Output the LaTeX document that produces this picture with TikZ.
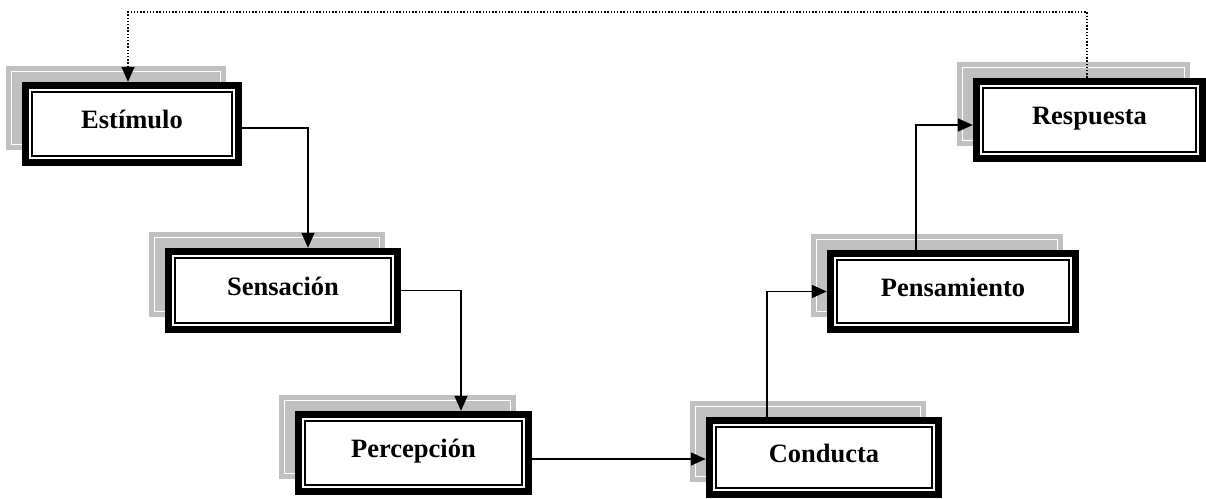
\documentclass[tikz,border=0pt]{standalone}
\usepackage{fontspec}
\setmainfont{Liberation Serif}
\usetikzlibrary{arrows.meta}
\definecolor{shadowgray}{HTML}{C0C0C0}
\tikzset{
  conn/.style={line width=1.5pt, -{Triangle[length=15pt,width=13pt]}},
  feedback/.style={line width=1.5pt, dash pattern=on 1.5pt off 1.7pt, -{Triangle[length=15pt,width=13pt]}},
  shadowfill/.style={fill=shadowgray},
  shadowrule/.style={draw=white, line width=0.9pt},
  outerframe/.style={fill=black},
  innerrule/.style={draw=black, line width=2pt},
  label/.style={inner sep=0pt, text height=15pt, text depth=6pt,
    font=\fontsize{26.5}{30}\selectfont\bfseries}
}
% framed process box with a grey offset shadow:
% #1 node name, (#2,#3) top-left, (#4,#5) bottom-right, #6 text
\newcommand\procbox[6]{%
  \fill[shadowfill] (#2-16,#3-16) rectangle (#4-16,#5-16);
  \path[shadowrule] (#2-16+5.5,#3-16+5.5) rectangle (#4-16-5.5,#5-16-5.5);
  \fill[outerframe] (#2,#3) rectangle (#4,#5);
  \fill[white] (#2+6.7,#3+6.7) rectangle (#4-6.7,#5-6.7);
  \path[innerrule] (#2+10,#3+10) rectangle (#4-10,#5-10);
  \node[label, minimum width={(#4-#2)*1pt}, minimum height={(#5-#3)*1pt}]
    (#1) at ({(#2+#4)/2},{(#3+#5)/2}) {#6};
}
\begin{document}
\begin{tikzpicture}[x=1pt, y=-1pt]
\useasboundingbox (0,0) rectangle (1206,498);

\procbox{estimulo}{22}{82}{242}{166}{Estímulo}
\procbox{sensacion}{165}{248}{401}{333}{Sensación}
\procbox{percepcion}{295}{411}{532}{495}{Percepción}
\procbox{conducta}{706}{417}{942}{498}{Conducta}
\procbox{pensamiento}{827}{250}{1079}{333}{Pensamiento}
\procbox{respuesta}{973}{78}{1206}{162}{Respuesta}

\coordinate (loop) at (600,12);

\draw[conn] ([yshift=-4pt]estimulo.east) -| ([xshift=25pt]sensacion.north);
\draw[conn] (sensacion.east) -| ([xshift=47.5pt]percepcion.north);
\draw[conn] ([yshift=-6pt]percepcion.east) -- ([yshift=-1.5pt]conducta.west);
\draw[conn] ([xshift=-57pt]conducta.north) |- (pensamiento.west);
\draw[conn] ([xshift=-37pt]pensamiento.north) |- ([yshift=-5pt]respuesta.west);
\draw[feedback] ([xshift=-2.5pt]respuesta.north) |- (loop) -| ([xshift=-4pt]estimulo.north);
\end{tikzpicture}
\end{document}
